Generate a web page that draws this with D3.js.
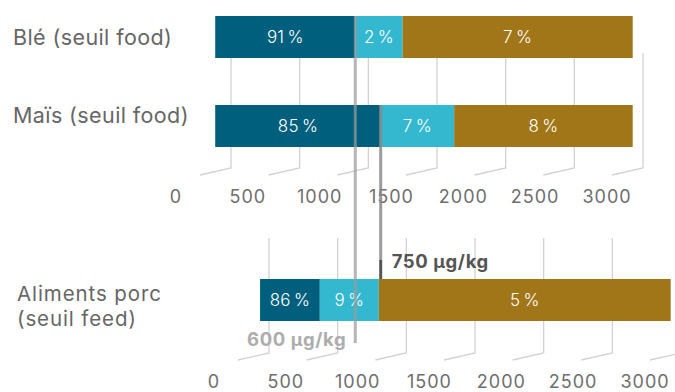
<!DOCTYPE html>
<html><head><meta charset="utf-8">
<script src="https://cdn.jsdelivr.net/npm/d3@7"></script>
<style>
html,body{margin:0;padding:0;background:#fff;}
svg{display:block;font-family:Inter,"Open Sans",sans-serif;}
</style></head>
<body>
<script>
// ---- data ----
const categories = ["Blé (seuil food)", "Maïs (seuil food)", "Aliments porc (seuil feed)"];
const shares = [[91, 2, 7], [85, 7, 8], [86, 9, 5]];           // % of samples per segment
const segmentEdges = [[-115, 905, 1250, 2925], [-115, 1090, 1625, 2925], [-65, 370, 800, 2925]]; // axis units
const tickValues = [0, 500, 1000, 1500, 2000, 2500, 3000];
const thresholdLabels = ["600 µg/kg", "750 µg/kg"];
const thresholdValues = [905, 1090]; // axis units (top panel)

const colors = ["#005f7d", "#33b8d0", "#a07618"];

const W = 675, H = 392;
const svg = d3.select("body").append("svg").attr("width", W).attr("height", H);

const gridX = d3.scaleLinear().domain([0, 3000]).range([231, 643]);
const labelX = d3.scaleLinear().domain([0, 3000]).range([176, 607]);

const panels = [
  {cats: [0, 1], dx: 0, dy: 0, y: d3.scaleBand().domain([0, 1]).range([16, 147]).paddingInner(0.528)},
  {cats: [2], dx: 38, dy: 185, y: d3.scaleBand().domain([2]).range([94, 136])}
];

const gridCol = "#d2d2d2";
panels.forEach(p => {
  const g = svg.append("g").attr("transform", `translate(${p.dx},${p.dy})`);
  g.append("g").selectAll("path").data(tickValues).join("path")
    .attr("d", v => { const x = gridX(v); return `M${x},53 L${x},168 L${x - 31},175`; })
    .attr("fill", "none").attr("stroke", gridCol).attr("stroke-width", 1.3);
  g.append("g").selectAll("text").data(tickValues).join("text")
    .attr("x", v => labelX(v)).attr("y", 203)
    .attr("text-anchor", "middle").attr("fill", "#6e6e6e")
    .attr("font-size", 18).attr("letter-spacing", 1).text(d => d);
  p.g = g;
});

// bars
panels.forEach(p => {
  p.segs = [];
  p.cats.forEach(ci => {
    const edges = segmentEdges[ci];
    const segs = shares[ci].map((s, i) => ({s, i, x0: edges[i], x1: edges[i + 1]}));
    p.g.append("g").selectAll("rect").data(segs).join("rect")
      .attr("x", d => gridX(d.x0)).attr("width", d => gridX(d.x1) - gridX(d.x0))
      .attr("y", p.y(ci)).attr("height", p.y.bandwidth())
      .attr("fill", d => colors[d.i]);
    p.segs.push({ci, segs});
  });
});

// threshold lines
const tx = thresholdValues.map(v => gridX(v));
svg.append("line").attr("x1", tx[0]).attr("x2", tx[0]).attr("y1", 16).attr("y2", 343)
  .attr("stroke", "#9a9a9a").attr("stroke-opacity", 0.72).attr("stroke-width", 3);
svg.append("line").attr("x1", tx[1]).attr("x2", tx[1]).attr("y1", 105).attr("y2", 260)
  .attr("stroke", "#8a8a8a").attr("stroke-opacity", 0.85).attr("stroke-width", 3);
svg.append("line").attr("x1", tx[1]).attr("x2", tx[1]).attr("y1", 260).attr("y2", 279)
  .attr("stroke", "#555").attr("stroke-width", 3);

// value labels
panels.forEach(p => {
  p.segs.forEach(({ci, segs}) => {
    p.g.append("g").selectAll("text").data(segs).join("text")
      .attr("x", d => (gridX(d.x0) + gridX(d.x1)) / 2)
      .attr("y", p.y(ci) + p.y.bandwidth() / 2 + 6)
      .attr("text-anchor", "middle").attr("fill", "#fff").attr("font-size", 17)
      .attr("font-weight", 300).attr("letter-spacing", 0.2)
      .text(d => d.s + "\u2009%");
  });
});

// threshold labels
svg.append("text").attr("x", tx[1] + 11).attr("y", 268).attr("font-size", 18.5)
  .attr("letter-spacing", 0.6)
  .attr("font-weight", "bold").attr("fill", "#555").text(thresholdLabels[1]);
svg.append("text").attr("x", tx[0] - 9).attr("y", 346).attr("font-size", 18.5)
  .attr("letter-spacing", 0.6)
  .attr("text-anchor", "end").attr("font-weight", "bold").attr("fill", "#adadad").text(thresholdLabels[0]);

// category labels
const catLayout = [
  {x: 13, y: [45], size: 21.5, ls: 0.4},
  {x: 13, y: [123], size: 21.5, ls: 0.4},
  {x: 17, y: [301, 326], size: 20.5, ls: 0.9}
];
categories.forEach((c, i) => {
  const lines = i === 2 ? ["Aliments porc", "(seuil feed)"] : [c];
  const L = catLayout[i];
  const t = svg.append("text").attr("fill", "#666").attr("font-size", L.size).attr("letter-spacing", L.ls);
  lines.forEach((l, j) => t.append("tspan").attr("x", L.x).attr("y", L.y[j]).text(l));
});
</script>
</body></html>
